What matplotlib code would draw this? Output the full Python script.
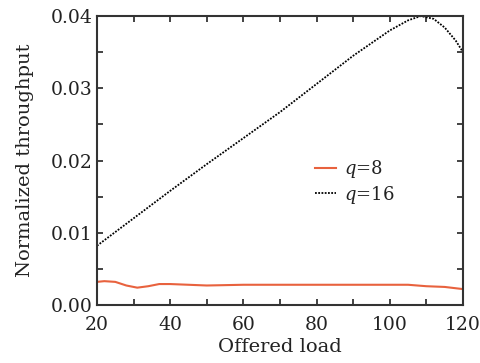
import matplotlib
matplotlib.use("Agg")
import matplotlib.pyplot as plt
from matplotlib.ticker import MultipleLocator

# Data
x16 = [20, 30, 40, 50, 60, 70, 80, 90, 100, 105, 108.5, 112, 115, 118, 120]
y16 = [0.0082, 0.0120, 0.0158, 0.0195, 0.0231, 0.0267, 0.0306, 0.0345, 0.0380, 0.0394, 0.0400, 0.0396, 0.0384, 0.0366, 0.0350]

x8 = [20, 22, 25, 28, 31, 34, 37, 40, 45, 50, 60, 70, 80, 90, 100, 105, 110, 115, 120]
y8 = [0.0032, 0.0033, 0.0032, 0.0027, 0.0024, 0.0026, 0.0029, 0.0029, 0.0028, 0.0027, 0.0028, 0.0028, 0.0028, 0.0028, 0.0028, 0.0028, 0.0026, 0.0025, 0.0022]

xticks = [20, 40, 60, 80, 100, 120]
yticks = [0.00, 0.01, 0.02, 0.03, 0.04]
ytick_labels = ["0.00", "0.01", "0.02", "0.03", "0.04"]

plt.rcParams['font.family'] = ['DejaVu Serif']
plt.rcParams['mathtext.fontset'] = 'dejavuserif'

fig = plt.figure(figsize=(4.8, 3.63), dpi=100)
ax = fig.add_axes([97/480, 1 - 305/363, (463-97)/480, (305-16)/363])

ax.plot(x8, y8, color='#E8623E', lw=1.5, label='$q$=8')
ax.plot(x16, y16, color='black', lw=1.3, linestyle=(0, (1, 0.8)), label='$q$=16')

ax.set_xlim(20, 120)
ax.set_ylim(0, 0.04)
ax.set_xticks(xticks)
ax.set_yticks(yticks)
ax.set_yticklabels(ytick_labels)
ax.xaxis.set_minor_locator(MultipleLocator(10))
ax.yaxis.set_minor_locator(MultipleLocator(0.005))
ax.tick_params(which='both', direction='in', top=True, right=True, length=4, width=1.2,
               labelsize=13.5, colors='#222222')
ax.tick_params(axis='x', which='both', pad=8)
ax.tick_params(axis='y', which='both', pad=3)
for s in ax.spines.values():
    s.set_linewidth(1.5)
    s.set_color('#333333')

ax.set_xlabel('Offered load', fontsize=14, labelpad=3, color='#222222')
ax.set_ylabel('Normalized throughput', fontsize=14, labelpad=12, color='#222222')

leg = ax.legend(loc='upper left', bbox_to_anchor=(0.57, 0.54), frameon=False, fontsize=13,
                handlelength=1.2, handletextpad=0.4, labelspacing=0.2, borderpad=0)
for t in leg.get_texts():
    t.set_color('#222222')

fig.savefig('out.png', dpi=100)
